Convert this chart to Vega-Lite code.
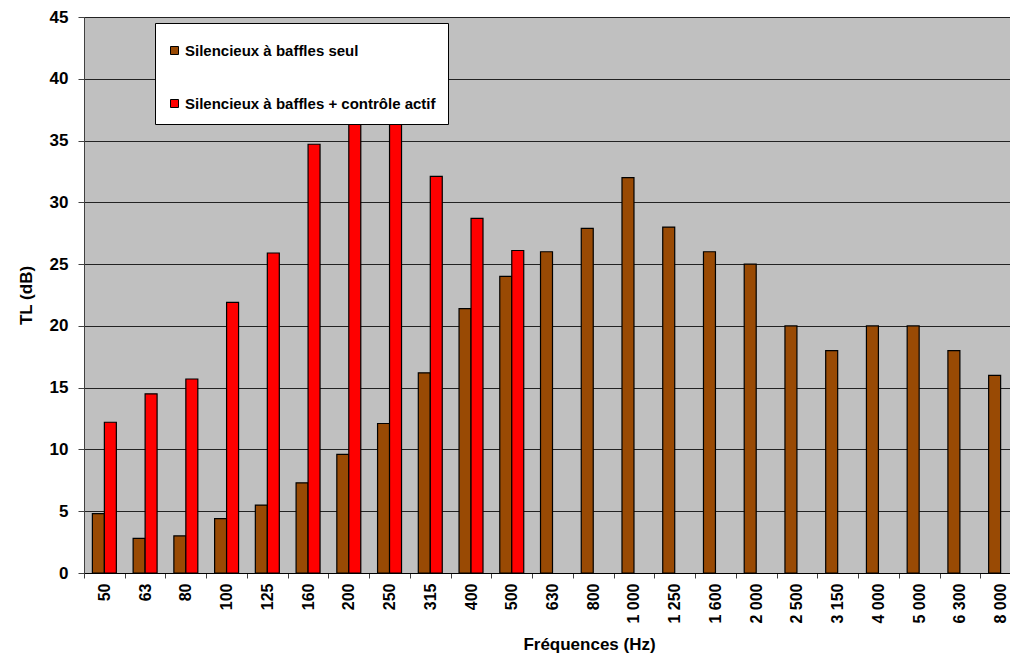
{
  "$schema": "https://vega.github.io/schema/vega-lite/v6.json",
  "width": 937,
  "height": 556,
  "autosize": {"type": "none"},
  "padding": {"left": 84, "top": 17, "right": 0, "bottom": 81},
  "background": "white",
  "config": {
    "view": {"fill": "#C0C0C0", "stroke": "#888888", "strokeWidth": 1},
    "font": "Liberation Sans"
  },
  "data": {
    "values": [
      {"freq": "50", "serie": "Silencieux à baffles seul", "TL": 4.8},
      {"freq": "63", "serie": "Silencieux à baffles seul", "TL": 2.8},
      {"freq": "80", "serie": "Silencieux à baffles seul", "TL": 3.0},
      {"freq": "100", "serie": "Silencieux à baffles seul", "TL": 4.4},
      {"freq": "125", "serie": "Silencieux à baffles seul", "TL": 5.5},
      {"freq": "160", "serie": "Silencieux à baffles seul", "TL": 7.3},
      {"freq": "200", "serie": "Silencieux à baffles seul", "TL": 9.6},
      {"freq": "250", "serie": "Silencieux à baffles seul", "TL": 12.1},
      {"freq": "315", "serie": "Silencieux à baffles seul", "TL": 16.2},
      {"freq": "400", "serie": "Silencieux à baffles seul", "TL": 21.4},
      {"freq": "500", "serie": "Silencieux à baffles seul", "TL": 24.0},
      {"freq": "630", "serie": "Silencieux à baffles seul", "TL": 26.0},
      {"freq": "800", "serie": "Silencieux à baffles seul", "TL": 27.9},
      {"freq": "1 000", "serie": "Silencieux à baffles seul", "TL": 32.0},
      {"freq": "1 250", "serie": "Silencieux à baffles seul", "TL": 28.0},
      {"freq": "1 600", "serie": "Silencieux à baffles seul", "TL": 26.0},
      {"freq": "2 000", "serie": "Silencieux à baffles seul", "TL": 25.0},
      {"freq": "2 500", "serie": "Silencieux à baffles seul", "TL": 20.0},
      {"freq": "3 150", "serie": "Silencieux à baffles seul", "TL": 18.0},
      {"freq": "4 000", "serie": "Silencieux à baffles seul", "TL": 20.0},
      {"freq": "5 000", "serie": "Silencieux à baffles seul", "TL": 20.0},
      {"freq": "6 300", "serie": "Silencieux à baffles seul", "TL": 18.0},
      {"freq": "8 000", "serie": "Silencieux à baffles seul", "TL": 16.0},
      {"freq": "50", "serie": "Silencieux à baffles + contrôle actif", "TL": 12.2},
      {"freq": "63", "serie": "Silencieux à baffles + contrôle actif", "TL": 14.5},
      {"freq": "80", "serie": "Silencieux à baffles + contrôle actif", "TL": 15.7},
      {"freq": "100", "serie": "Silencieux à baffles + contrôle actif", "TL": 21.9},
      {"freq": "125", "serie": "Silencieux à baffles + contrôle actif", "TL": 25.9},
      {"freq": "160", "serie": "Silencieux à baffles + contrôle actif", "TL": 34.7},
      {"freq": "200", "serie": "Silencieux à baffles + contrôle actif", "TL": 39.0},
      {"freq": "250", "serie": "Silencieux à baffles + contrôle actif", "TL": 40.0},
      {"freq": "315", "serie": "Silencieux à baffles + contrôle actif", "TL": 32.1},
      {"freq": "400", "serie": "Silencieux à baffles + contrôle actif", "TL": 28.7},
      {"freq": "500", "serie": "Silencieux à baffles + contrôle actif", "TL": 26.1}
    ]
  },
  "mark": {"type": "bar", "stroke": "black", "strokeWidth": 1.2},
  "encoding": {
    "x": {
      "field": "freq",
      "type": "nominal",
      "sort": ["50", "63", "80", "100", "125", "160", "200", "250", "315", "400", "500", "630", "800", "1 000", "1 250", "1 600", "2 000", "2 500", "3 150", "4 000", "5 000", "6 300", "8 000"],
      "scale": {"paddingInner": 0, "paddingOuter": 0},
      "axis": {
        "title": "Fréquences (Hz)",
        "titleFont": "Liberation Sans",
        "titleFontSize": 17,
        "titleFontWeight": "bold",
        "titleX": 505,
        "titleY": 76,
        "titleBaseline": "alphabetic",
        "titleColor": "black",
        "labelAngle": -90,
        "labelFont": "Liberation Sans",
        "labelFontSize": 16,
        "labelFontWeight": "bold",
        "labelColor": "black",
        "labelPadding": 5,
        "tickBand": "extent",
        "tickSize": 5,
        "tickColor": "#404040",
        "domainColor": "black",
        "grid": false
      }
    },
    "xOffset": {
      "field": "serie",
      "type": "nominal",
      "scale": {"domain": ["Silencieux à baffles seul", "Silencieux à baffles + contrôle actif"], "paddingInner": 0, "paddingOuter": 0.7}
    },
    "y": {
      "field": "TL",
      "type": "quantitative",
      "scale": {"domain": [0, 45], "nice": false},
      "axis": {
        "title": "TL (dB)",
        "titleFont": "Liberation Sans",
        "titleFontSize": 17,
        "titleFontWeight": "bold",
        "titleColor": "black",
        "titlePadding": 14,
        "values": [0, 5, 10, 15, 20, 25, 30, 35, 40, 45],
        "labelFont": "Liberation Sans",
        "labelFontSize": 17,
        "labelFontWeight": "bold",
        "labelColor": "black",
        "labelPadding": 10,
        "tickSize": 6,
        "tickColor": "#404040",
        "domainColor": "#404040",
        "grid": true,
        "gridColor": "#222222",
        "gridWidth": 1,
        "gridOpacity": 1
      }
    },
    "color": {
      "field": "serie",
      "type": "nominal",
      "scale": {"domain": ["Silencieux à baffles seul", "Silencieux à baffles + contrôle actif"], "range": ["#994A04", "#FF0000"]},
      "legend": {
        "title": " ",
        "titleFontSize": 8,
        "titlePadding": 0,
        "orient": "none",
        "legendX": 71,
        "legendY": 6,
        "fillColor": "white",
        "strokeColor": "black",
        "padding": 12,
        "rowPadding": 37,
        "symbolType": "square",
        "symbolSize": 64,
        "symbolStrokeColor": "black",
        "symbolStrokeWidth": 1,
        "symbolOffset": 0,
        "labelOffset": 3,
        "labelFont": "Liberation Sans",
        "labelFontSize": 15,
        "labelFontWeight": "bold",
        "labelColor": "black",
        "labelLimit": 400
      }
    }
  }
}
